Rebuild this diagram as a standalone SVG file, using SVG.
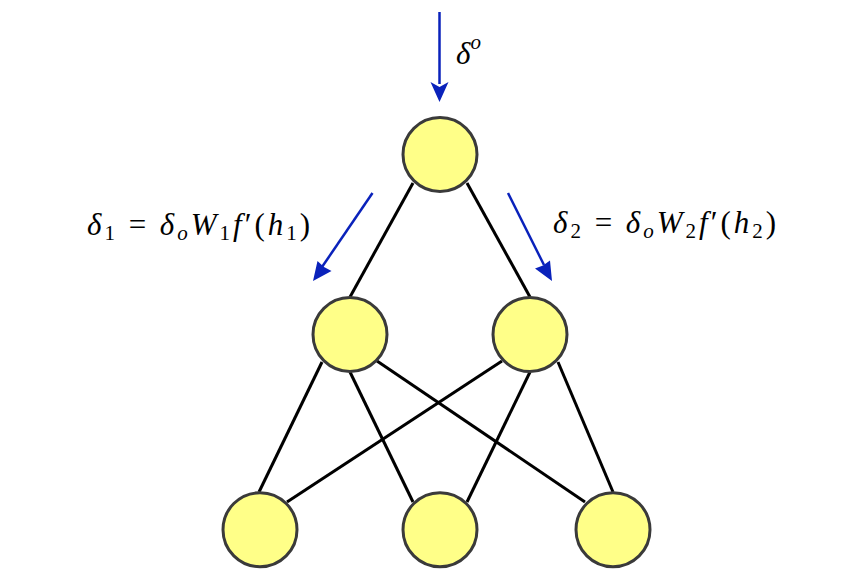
<svg xmlns="http://www.w3.org/2000/svg" width="867" height="574" viewBox="0 0 867 574">
<defs>
<style>
.edge{stroke:#000;stroke-width:3;fill:none}
.flow{stroke:#0a22bb;stroke-width:2.5;fill:none}
.node{fill:#ffff88;stroke:#3a3a3a;stroke-width:3}
.lbl{font-family:"Liberation Serif","DejaVu Serif",serif;font-size:31px;fill:#000}
.it{font-style:italic}
.sub{font-size:21px}
</style>
</defs>
<rect width="867" height="574" fill="#fff"/>
<g id="connectors">
<line class="edge" x1="413" y1="183" x2="350" y2="297"/>
<line class="edge" x1="467" y1="183" x2="530" y2="297"/>
<line class="edge" x1="322" y1="362" x2="259" y2="492"/>
<line class="edge" x1="350" y1="372" x2="413" y2="502"/>
<line class="edge" x1="377" y1="361" x2="585" y2="502"/>
<line class="edge" x1="502" y1="361" x2="287" y2="502"/>
<line class="edge" x1="530" y1="372" x2="467" y2="502"/>
<line class="edge" x1="558" y1="362" x2="613" y2="492"/>
</g>
<g id="flows">
<path d="M439.5,12 L439.5,84" class="flow"/>
<path d="M430.5,82 L439.5,102 L448.5,82 L439.5,87 z" fill="#0a22bb"/>
<path d="M372.5,193 L322,267" class="flow"/>
<path d="M313,281 L317.5,261 L324,267 L331.5,271 z" fill="#0a22bb"/>
<path d="M508,193 L544,265" class="flow"/>
<path d="M552,281 L535,268.5 L543,265.5 L550,260.5 z" fill="#0a22bb"/>
</g>
<g id="n-top"><circle class="node" cx="440" cy="154.5" r="37"/></g>
<g id="n-h1"><circle class="node" cx="350" cy="334.5" r="37"/></g>
<g id="n-h2"><circle class="node" cx="530" cy="334.5" r="37"/></g>
<g id="n-i1"><circle class="node" cx="260" cy="529.7" r="37"/></g>
<g id="n-i2"><circle class="node" cx="440" cy="529.7" r="37"/></g>
<g id="n-i3"><circle class="node" cx="613" cy="529.7" r="37"/></g>
<g id="labels">
<text class="lbl" x="456" y="64"><tspan class="it">δ</tspan><tspan class="it sub" dy="-15">o</tspan></text>
<text class="lbl" x="87" y="235" textLength="223" lengthAdjust="spacing"><tspan class="it">δ</tspan><tspan class="sub" dy="5">1</tspan><tspan dy="-5">  =  </tspan><tspan class="it">δ</tspan><tspan class="it sub" dy="5">o</tspan><tspan class="it" dy="-5">W</tspan><tspan class="sub" dy="5">1</tspan><tspan class="it" dy="-5">f</tspan><tspan>′(</tspan><tspan class="it">h</tspan><tspan class="sub" dy="5">1</tspan><tspan dy="-5">)</tspan></text>
<text class="lbl" x="553" y="233" textLength="223" lengthAdjust="spacing"><tspan class="it">δ</tspan><tspan class="sub" dy="5">2</tspan><tspan dy="-5">  =  </tspan><tspan class="it">δ</tspan><tspan class="it sub" dy="5">o</tspan><tspan class="it" dy="-5">W</tspan><tspan class="sub" dy="5">2</tspan><tspan class="it" dy="-5">f</tspan><tspan>′(</tspan><tspan class="it">h</tspan><tspan class="sub" dy="5">2</tspan><tspan dy="-5">)</tspan></text>
</g>
</svg>
